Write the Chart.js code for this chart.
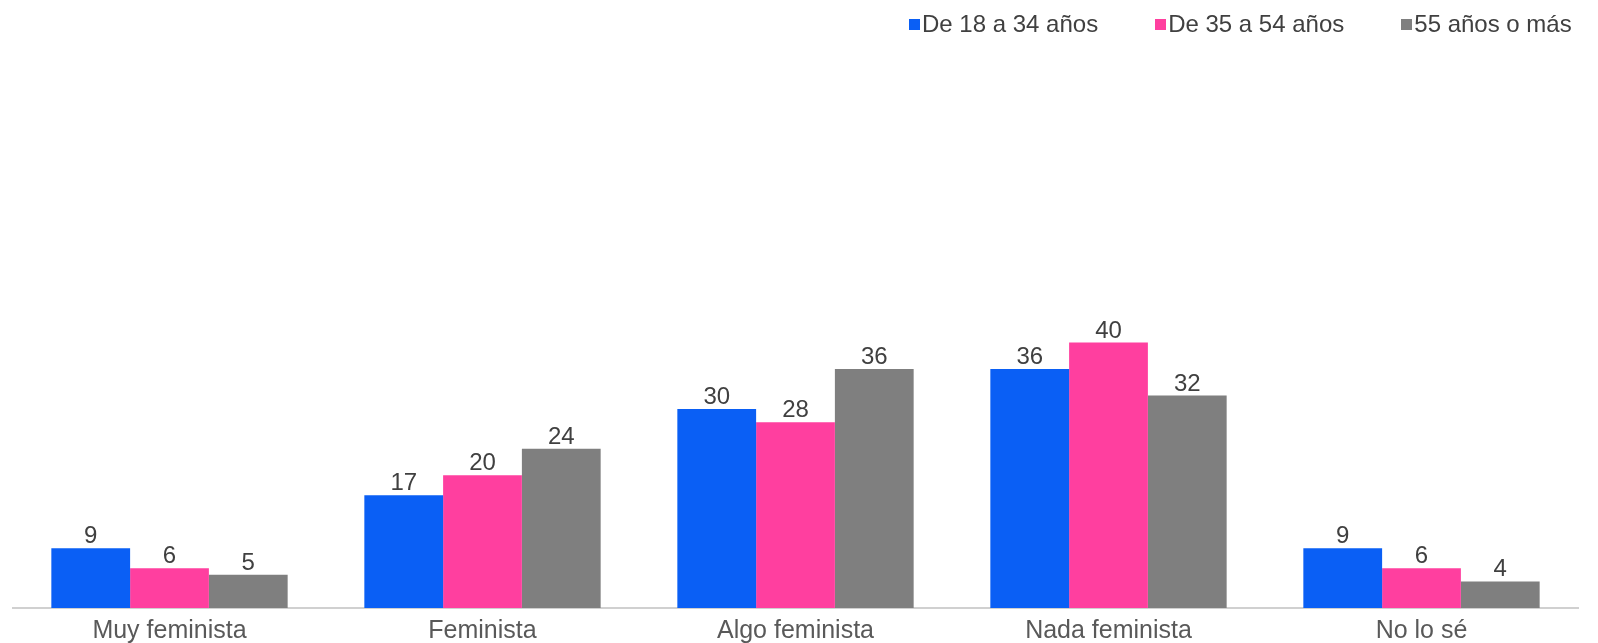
<!DOCTYPE html>
<html>
<head>
<meta charset="utf-8">
<script src="https://cdn.jsdelivr.net/npm/chart.js@4"></script>
<style>
  html, body { margin: 0; padding: 0; background: #fff; overflow: hidden; }
  #wrap { width: 1598px; height: 643px; position: relative; }
  #legend {
    position: absolute; left: 909px; top: 12px;
    display: flex; gap: 57px; white-space: nowrap;
    font: 24px/24px "Liberation Sans", Arial, sans-serif; color: #404040;
  }
  #legend .item { display: flex; align-items: center; }
  #legend .box { width: 11px; height: 11px; margin-right: 2px; }
</style>
</head>
<body>
<div id="wrap">
  <canvas id="chart"></canvas>
  <div id="legend"></div>
</div>
<script>
const categories = ['Muy feminista', 'Feminista', 'Algo feminista', 'Nada feminista', 'No lo sé'];
const seriesNames = ['De 18 a 34 años', 'De 35 a 54 años', '55 años o más'];
const young = [9, 17, 30, 36, 9];
const middle = [6, 20, 28, 40, 6];
const older = [5, 24, 36, 32, 4];
const colors = ['#0a5ff5', '#ff3f9f', '#7f7f7f'];

const FONT = '"Liberation Sans", Arial, sans-serif';

// values above each bar
const valueLabels = {
  id: 'valueLabels',
  afterDatasetsDraw(chart) {
    const ctx = chart.ctx;
    ctx.save();
    ctx.font = '24px ' + FONT;
    ctx.fillStyle = '#404040';
    ctx.textAlign = 'center';
    ctx.textBaseline = 'alphabetic';
    chart.data.datasets.forEach((ds, i) => {
      chart.getDatasetMeta(i).data.forEach((bar, j) => {
        ctx.fillText(ds.data[j], bar.x, bar.y - 5);
      });
    });
    ctx.restore();
  }
};

const chart = new Chart(document.getElementById('chart').getContext('2d'), {
  type: 'bar',
  data: {
    labels: categories,
    datasets: [young, middle, older].map((vals, i) => ({
      label: seriesNames[i],
      data: vals,
      backgroundColor: colors[i],
      borderWidth: 0,
      categoryPercentage: 0.755,
      barPercentage: 1.0
    }))
  },
  options: {
    responsive: true,
    maintainAspectRatio: false,
    animation: false,
    layout: { padding: { left: 13, right: 20, top: 77, bottom: -12 } },
    scales: {
      x: {
        grid: { display: false, drawTicks: false },
        border: { display: true, color: '#d0d0d0', width: 2 },
        ticks: { color: '#595959', font: { family: FONT, size: 25, lineHeight: 1 }, padding: 11 }
      },
      y: {
        display: false,
        min: 0,
        max: 80
      }
    },
    plugins: {
      legend: { display: false },
      tooltip: { enabled: false }
    }
  },
  plugins: [valueLabels]
});

// html legend from the same series
const legendEl = document.getElementById('legend');
chart.data.datasets.forEach(ds => {
  const item = document.createElement('div');
  item.className = 'item';
  const box = document.createElement('span');
  box.className = 'box';
  box.style.background = ds.backgroundColor;
  item.appendChild(box);
  item.appendChild(document.createTextNode(ds.label));
  legendEl.appendChild(item);
});
</script>
</body>
</html>
